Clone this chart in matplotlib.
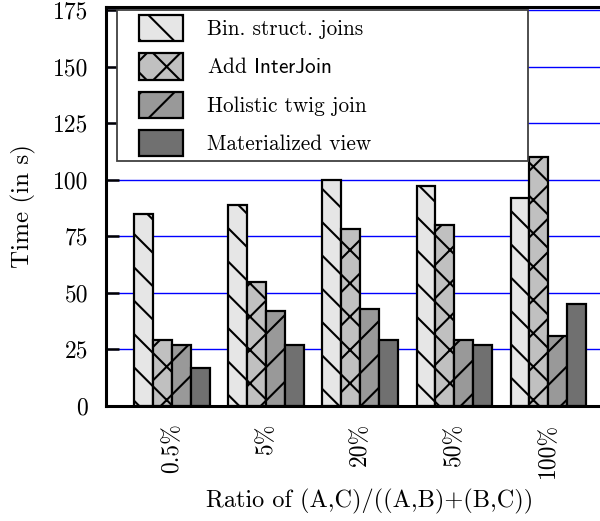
import matplotlib
matplotlib.use("Agg")
import matplotlib.pyplot as plt
from matplotlib.patches import Rectangle
import numpy as np

plt.rcParams['font.family'] = ['cmr10', 'DejaVu Serif']
plt.rcParams['mathtext.fontset'] = 'cm'
plt.rcParams['axes.formatter.use_mathtext'] = True
plt.rcParams['hatch.linewidth'] = 1.5

categories = ["0.5%", "5%", "20%", "50%", "100%"]
series_names = ["Bin. struct. joins", r"Add $\mathsf{InterJoin}$", "Holistic twig join", "Materialized view"]
bin_struct = [85, 89, 100, 97, 92]
add_interjoin = [29, 55, 78, 80, 110]
holistic = [27, 42, 43, 29, 31]
materialized = [17, 27, 29, 27, 45]
series_values = [bin_struct, add_interjoin, holistic, materialized]
y_ticks = [0, 25, 50, 75, 100, 125, 150, 175]

colors = ["#e6e6e6", "#c0c0c0", "#999999", "#707070"]
hatches = ["\\", "x", "/", ""]

fig = plt.figure(figsize=(6.0, 5.21), dpi=100)
ax = fig.add_axes([106/600, 1-406/521, 1-106/600, 399/521])

x = np.arange(len(categories))
w = 0.2
offsets = [-0.3, -0.1, 0.1, 0.3]
for vals, off, c, h, name in zip(series_values, offsets, colors, hatches, series_names):
    ax.bar(x + off, vals, width=w, color=c, hatch=h, edgecolor="black",
           linewidth=1.6, label=name, zorder=3)

ax.set_xlim(-0.7, 4.55)
ax.set_ylim(0, 176.3)
ax.set_yticks(y_ticks)
ax.set_yticklabels([str(t) for t in y_ticks], fontsize=17)
ax.set_xticks(x)
ax.set_xticklabels(categories, rotation=90, fontsize=17)
ax.tick_params(axis='x', length=0, pad=12)
ax.tick_params(axis='y', direction='in', length=9.5, width=1.8, pad=13)

for t in y_ticks[1:]:
    ax.axhline(t, color="blue", linewidth=1.0, zorder=1)

ax.spines['right'].set_visible(False)
for s in ['left', 'bottom', 'top']:
    ax.spines[s].set_linewidth(2.2)
    ax.spines[s].set_zorder(5)

ax.set_ylabel("Time (in s)", fontsize=18, labelpad=12)
ax.set_xlabel("Ratio of (A,C)/((A,B)+(B,C))", fontsize=17.5, labelpad=8)
ax.xaxis.label.set_x((370 - 106) / 494)

# legend frame
x0 = (117 - 106) / 494
x1 = (528 - 106) / 494
y0 = (406 - 161) / 399
y1 = (406 - 10) / 399
frame = Rectangle((x0, y0), x1 - x0, y1 - y0, transform=ax.transAxes,
                  facecolor="white", edgecolor="#404040", linewidth=1.3, zorder=9)
ax.add_patch(frame)

fs = 15.3
leg = ax.legend(loc='upper left', bbox_to_anchor=((139 - 106) / 494, (406 - 15) / 399),
                borderaxespad=0, borderpad=0, fontsize=fs, frameon=False,
                handlelength=2.07, handleheight=1.52,
                labelspacing=0.57, handletextpad=1.13)
leg.set_zorder(10)

fig.savefig("out.png", dpi=100)
